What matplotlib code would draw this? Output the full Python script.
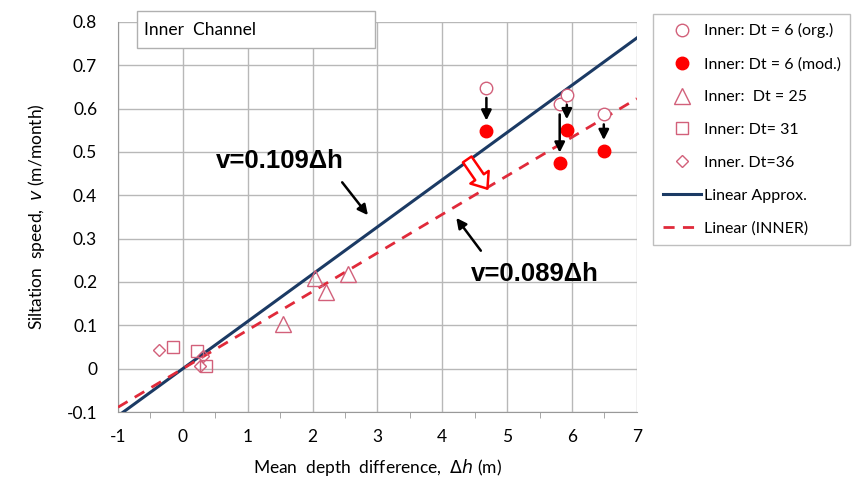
import matplotlib
matplotlib.use('Agg')
import matplotlib.pyplot as plt
from matplotlib.patches import Rectangle
import numpy as np

plt.rcParams['font.family'] = ['Lato', 'DejaVu Sans']
plt.rcParams['axes.unicode_minus'] = False

# Dt = 6, original and modified
dt6_x = [4.68, 5.81, 5.92, 6.49]
dt6_org = [0.648, 0.610, 0.632, 0.587]
dt6_mod = [0.548, 0.474, 0.551, 0.503]
# Dt = 25
dt25_x = [1.54, 2.04, 2.20, 2.55]
dt25_y = [0.103, 0.210, 0.176, 0.218]
# Dt = 31
dt31_x = [-0.15, 0.22, 0.36]
dt31_y = [0.050, 0.040, 0.005]
# Dt = 36
dt36_x = [-0.37, 0.31, 0.26]
dt36_y = [0.044, 0.030, 0.006]

slope_approx = 0.109
slope_inner = 0.089
x_line = [-1, 7]

pink = '#d2607a'
navy = '#1b3a64'
red_dash = '#e02a3a'

black_arrow = dict(arrowstyle='-|>,head_width=0.3,head_length=0.6', color='black', lw=1.8)


def main():
    fig = plt.figure(figsize=(8.52, 4.87), dpi=100)
    ax = fig.add_axes([0.1385, 0.154, 0.609, 0.801])

    xl = np.array(x_line)
    ax.plot(dt6_x, dt6_org, 'o', mfc='white', mec=pink, ms=9, mew=1, zorder=5,
            label='Inner: Dt = 6 (org.)')
    ax.plot(dt6_x, dt6_mod, 'o', mfc='red', mec='red', ms=9, zorder=5,
            label='Inner: Dt = 6 (mod.)')
    ax.plot(dt25_x, dt25_y, '^', mfc='none', mec=pink, ms=11, mew=1, zorder=5,
            label='Inner:  Dt = 25')
    ax.plot(dt31_x, dt31_y, 's', mfc='none', mec=pink, ms=9, mew=1, zorder=5,
            label='Inner: Dt= 31')
    ax.plot(dt36_x, dt36_y, 'D', mfc='none', mec=pink, ms=6, mew=1, zorder=5,
            label='Inner. Dt=36')
    ax.plot(xl, slope_approx * xl, '-', c=navy, lw=2.2, zorder=3, label='Linear Approx.')
    ax.plot(xl, slope_inner * xl, '--', c=red_dash, lw=2, dashes=(4, 3), zorder=3,
            label='Linear (INNER)')

    # arrows from original to modified points
    for x, yo, ym in zip(dt6_x, dt6_org, dt6_mod):
        ax.annotate('', xy=(x, ym + 0.018), xytext=(x, yo - 0.017),
                    arrowprops=black_arrow, zorder=6)

    ax.text(1.5, 0.48, 'v=0.109\u0394h', fontsize=18.5, fontweight='bold',
            family='Liberation Sans', ha='center', va='center')
    ax.annotate('', xy=(2.88, 0.349), xytext=(2.43, 0.435), arrowprops=black_arrow)
    ax.text(5.43, 0.218, 'v=0.089\u0394h', fontsize=18.5, fontweight='bold',
            family='Liberation Sans', ha='center', va='center')
    ax.annotate('', xy=(4.19, 0.353), xytext=(4.62, 0.267), arrowprops=black_arrow)
    ax.annotate('', xy=(4.72, 0.410), xytext=(4.36, 0.488),
                arrowprops=dict(arrowstyle='simple,head_width=1.6,head_length=1.0,tail_width=0.75',
                                fc='white', ec='red', lw=1.8))

    ax.set_xlim(-1, 7)
    ax.set_ylim(-0.1, 0.8)
    ax.set_xticks(range(-1, 8))
    ax.set_yticks(np.arange(-0.1, 0.81, 0.1))
    ax.set_yticklabels(['-0.1', '0', '0.1', '0.2', '0.3', '0.4', '0.5', '0.6', '0.7', '0.8'])
    ax.set_xticks(np.arange(-0.5, 7, 1.0), minor=True)
    ax.tick_params(axis='both', which='major', length=0, labelsize=12.5, pad=12)
    ax.tick_params(axis='y', pad=15)
    ax.tick_params(axis='x', which='minor', length=4, color='#999999', direction='out')
    ax.grid(True, which='major', color='#b8b8b8', lw=1)
    for side in ['top', 'right']:
        ax.spines[side].set_visible(False)
    for side in ['left', 'bottom']:
        ax.spines[side].set_color('#999999')

    ax.set_xlabel('Mean  depth  difference,  $\\mathit{\\Delta h}$ (m)', fontsize=12.5, labelpad=9)
    ax.set_ylabel('Siltation  speed,  $\\mathit{v}$ (m/month)', fontsize=12.5, labelpad=14)

    fig.patches.append(Rectangle((137 / 852, 1 - 48 / 487), 238 / 852, 37 / 487,
                                 transform=fig.transFigure, fc='white', ec='#b0b0b0',
                                 lw=1, zorder=10))
    fig.text(144 / 852, 1 - 30 / 487, 'Inner  Channel', fontsize=12.5, va='center',
             zorder=11)

    leg = fig.legend(loc='upper left', bbox_to_anchor=(0.767, 0.972),
                     bbox_transform=fig.transFigure, fontsize=11.5, frameon=True,
                     fancybox=False, edgecolor='#b0b0b0', labelspacing=1.17,
                     handlelength=2.4, borderpad=0.6, handletextpad=0.15,
                     borderaxespad=0)
    leg.get_frame().set_linewidth(1)

    fig.savefig('out.png', dpi=100)


if __name__ == '__main__':
    main()
